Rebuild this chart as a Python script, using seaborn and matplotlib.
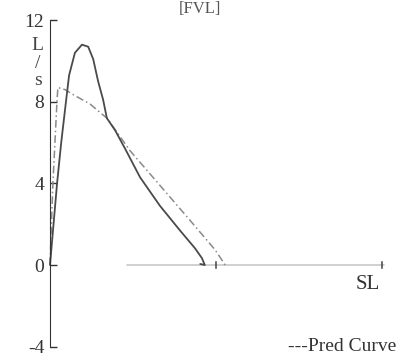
import matplotlib
matplotlib.use("Agg")
import matplotlib.pyplot as plt
import pandas as pd
import seaborn as sns

# measured flow-volume loop (volume L, flow L/s)
meas_vol = [0.0, 0.17, 0.27, 0.39, 0.46, 0.60, 0.77, 0.92, 1.04, 1.16, 1.28, 1.37,
            1.57, 1.81, 2.17, 2.65, 3.13, 3.49, 3.66, 3.73, 3.62]
meas_flow = [0.0, 4.0, 6.0, 8.1, 9.3, 10.4, 10.8, 10.7, 10.1, 9.0, 8.1, 7.2,
             6.6, 5.7, 4.3, 2.9, 1.7, 0.83, 0.34, 0.0, 0.05]

# predicted curve
pred_vol = [0.0, 0.07, 0.17, 0.19, 0.36, 0.60, 0.96, 1.37, 1.93, 2.65, 3.37, 3.98, 4.22]
pred_flow = [0.0, 4.0, 8.1, 8.7, 8.6, 8.3, 7.9, 7.2, 5.6, 3.9, 2.2, 0.74, 0.0]

# baseline segment along flow = 0
base_vol = [1.85, 8.05]
base_flow = [0.0, 0.0]

y_ticks = [-4, 0, 4, 8, 12]
x_ticks = [4, 8]

sns.set_style("white")
plt.rcParams['font.family'] = ['Liberation Serif', 'DejaVu Serif']

meas = pd.DataFrame({"vol": meas_vol, "flow": meas_flow})
pred = pd.DataFrame({"vol": pred_vol, "flow": pred_flow})

fig = plt.figure(figsize=(3.99, 3.56), dpi=100)
ax = fig.add_axes([0, 0, 1, 1])
ax.set_xlim(-1.205, 8.41)
ax.set_ylim(-4.46, 12.99)

ax.plot(base_vol, base_flow, color="#c8c8c8", linewidth=1.2)
sns.lineplot(data=pred, x="vol", y="flow", sort=False, ax=ax, color="#8a8a8a",
             linewidth=1.1, linestyle=(0, (5, 2, 1, 2)))
sns.lineplot(data=meas, x="vol", y="flow", sort=False, ax=ax, color="#4a4a4a",
             linewidth=1.3)

for s in ["top", "right", "bottom"]:
    ax.spines[s].set_visible(False)
ax.spines["left"].set_position(("data", 0))
ax.spines["left"].set_bounds(-4, 12)
ax.spines["left"].set_color("#333333")

ax.set_yticks(y_ticks)
ax.set_yticklabels([str(t) for t in y_ticks])
ax.tick_params(axis="y", direction="in", length=5, width=1, pad=4,
               labelsize=14, colors="#333333", left=True)
ax.set_xticks(x_ticks)
ax.set_xticklabels([])
ax.tick_params(axis="x", bottom=False)
ax.set_xlabel("")
ax.set_ylabel("")

# short ticks crossing the zero line
for xt in x_ticks:
    ax.annotate("", xy=(xt, 0.3), xytext=(xt, -0.3), xycoords="data",
                arrowprops=dict(arrowstyle="-", color="#333333", lw=1))

ax.text(-0.3, 9.9, "L\n/\ns", ha="center", va="center", fontsize=14,
        color="#444444", linespacing=1.05)
ax.text(7.65, -0.95, "SL", ha="center", va="center", fontsize=15, color="#333333")
ax.text(8.35, -4.0, "---Pred Curve", ha="right", va="center", fontsize=14,
        color="#333333")
fig.text(0.5, 1.0 - 1 / 356, "[FVL]", ha="center", va="top", fontsize=12,
         color="#555555")

fig.savefig("out.png", dpi=100, facecolor="white")
